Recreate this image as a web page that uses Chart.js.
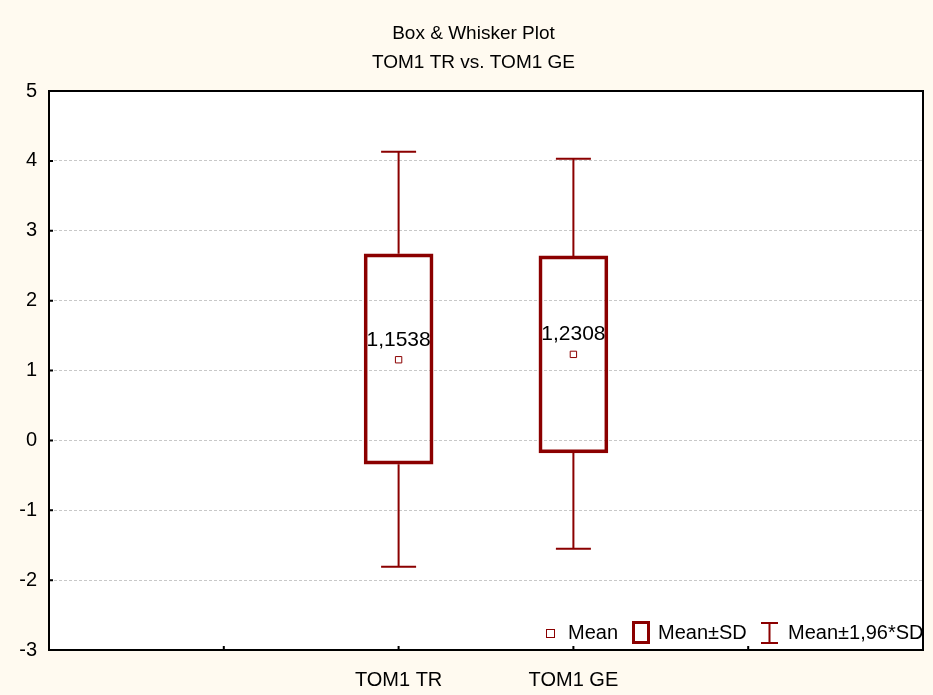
<!DOCTYPE html>
<html>
<head>
<meta charset="utf-8">
<script src="https://cdn.jsdelivr.net/npm/chart.js@4"></script>
<style>
    html, body { margin: 0; padding: 0; background: #fffaf0; }
    #wrap { width: 933px; height: 695px; }
</style>
</head>
<body>
<div id="wrap"><canvas id="chart" width="933" height="695"></canvas></div>
<script>
// Data
const categories = ["TOM1 TR", "TOM1 GE"];
const positions = [2, 3];
const means = [1.1538, 1.2308];
const sdLow = [-0.34, -0.18];
const sdHigh = [2.67, 2.64];
const ciLow = [-1.81, -1.55];
const ciHigh = [4.13, 4.03];
const titleText = "Box & Whisker Plot";
const subtitleText = "TOM1 TR vs. TOM1 GE";
const legendLabels = ["Mean", "Mean±SD", "Mean±1,96*SD"];

const RED = "#8b0000";
const FONT = "'Liberation Sans', Arial, sans-serif";

Chart.defaults.font.family = FONT;
Chart.defaults.color = "#000";

// Draws background, frame, whiskers, labels and legend
const boxPlugin = {
    id: "boxPlugin",
    beforeDraw(chart) {
        const ctx = chart.ctx;
        const a = chart.chartArea;
        ctx.save();
        ctx.fillStyle = "#fffaf0";
        ctx.fillRect(0, 0, chart.width, chart.height);
        ctx.fillStyle = "#ffffff";
        ctx.fillRect(a.left, a.top, a.right - a.left, a.bottom - a.top);
        ctx.restore();
    },
    beforeDatasetsDraw(chart) {
        const ctx = chart.ctx;
        const x = chart.scales.x;
        const y = chart.scales.y;
        ctx.save();
        ctx.strokeStyle = RED;
        ctx.lineWidth = 2;
        positions.forEach((p, i) => {
            const px = x.getPixelForValue(p);
            const top = y.getPixelForValue(ciHigh[i]);
            const bottom = y.getPixelForValue(ciLow[i]);
            ctx.beginPath();
            ctx.moveTo(px, top);
            ctx.lineTo(px, y.getPixelForValue(sdHigh[i]));
            ctx.moveTo(px, y.getPixelForValue(sdLow[i]));
            ctx.lineTo(px, bottom);
            ctx.moveTo(px - 17.5, top);
            ctx.lineTo(px + 17.5, top);
            ctx.moveTo(px - 17.5, bottom);
            ctx.lineTo(px + 17.5, bottom);
            ctx.stroke();
        });
        ctx.restore();
    },
    afterDraw(chart) {
        const ctx = chart.ctx;
        const a = chart.chartArea;
        const x = chart.scales.x;
        const y = chart.scales.y;
        ctx.save();

        // mean value labels
        ctx.fillStyle = "#000";
        ctx.font = "21px " + FONT;
        ctx.textAlign = "center";
        ctx.textBaseline = "middle";
        positions.forEach((p, i) => {
            const label = means[i].toFixed(4).replace(".", ",");
            ctx.fillText(label, x.getPixelForValue(p), y.getPixelForValue(means[i]) - 20);
        });

        // frame and inner tick marks
        ctx.strokeStyle = "#000";
        ctx.lineWidth = 2;
        ctx.strokeRect(a.left, a.top, a.right - a.left, a.bottom - a.top);
        ctx.beginPath();
        for (let v = 1; v <= 4; v++) {
            const px = x.getPixelForValue(v);
            ctx.moveTo(px, a.bottom);
            ctx.lineTo(px, a.bottom - 4);
        }
        for (let v = -2; v <= 4; v++) {
            const py = y.getPixelForValue(v);
            ctx.moveTo(a.left, py);
            ctx.lineTo(a.left + 4, py);
        }
        ctx.stroke();

        // titles
        ctx.font = "19px " + FONT;
        ctx.fillText(titleText, chart.width / 2 + 7, 34);
        ctx.fillText(subtitleText, chart.width / 2 + 7, 63);

        // legend
        const ly = 633;
        ctx.font = "20px " + FONT;
        ctx.textAlign = "left";
        ctx.strokeStyle = RED;
        ctx.lineWidth = 1;
        ctx.fillStyle = "#fff";
        ctx.fillRect(546, ly - 4, 8, 8);
        ctx.strokeRect(546.5, ly - 3.5, 8, 8);
        ctx.fillStyle = "#000";
        ctx.fillText(legendLabels[0], 568, ly);

        ctx.lineWidth = 3;
        ctx.strokeRect(633.5, ly - 10.5, 15, 20);
        ctx.fillText(legendLabels[1], 658, ly);

        ctx.lineWidth = 2;
        ctx.beginPath();
        ctx.moveTo(761, ly - 10);
        ctx.lineTo(778, ly - 10);
        ctx.moveTo(769.5, ly - 10);
        ctx.lineTo(769.5, ly + 10);
        ctx.moveTo(761, ly + 10);
        ctx.lineTo(778, ly + 10);
        ctx.stroke();
        ctx.fillText(legendLabels[2], 788, ly);

        ctx.restore();
    }
};

const ctx = document.getElementById("chart").getContext("2d");

new Chart(ctx, {
    type: "bar",
    data: {
        datasets: [
            {
                type: "bar",
                label: "Mean±SD",
                data: positions.map((p, i) => ({ x: p, y: [sdLow[i], sdHigh[i]] })),
                backgroundColor: "rgba(255,255,255,0)",
                borderColor: RED,
                borderWidth: 3,
                borderSkipped: false,
                barThickness: 69,
                order: 2
            },
            {
                type: "scatter",
                label: "Mean",
                data: positions.map((p, i) => ({ x: p, y: means[i] })),
                pointStyle: "rect",
                pointRadius: 4.5,
                backgroundColor: "#fff",
                borderColor: RED,
                borderWidth: 1,
                order: 1
            }
        ]
    },
    options: {
        responsive: false,
        animation: false,
        layout: { padding: { top: 91, right: 7, left: 0, bottom: 0 } },
        plugins: {
            legend: { display: false },
            tooltip: { enabled: false },
            title: { display: false }
        },
        scales: {
            x: {
                type: "linear",
                min: 0,
                max: 5,
                offset: false,
                grid: { display: false },
                border: { display: false },
                ticks: {
                    stepSize: 1,
                    padding: 10,
                    autoSkip: false,
                    maxRotation: 0,
                    font: { size: 20 },
                    callback: (v) => {
                        const i = positions.indexOf(v);
                        return i >= 0 ? categories[i] : "";
                    }
                },
                afterFit: (s) => { s.height = 45; }
            },
            y: {
                min: -3,
                max: 5,
                grid: {
                    drawTicks: false,
                    color: (c) => (c.tick.value === 5 || c.tick.value === -3) ? "rgba(0,0,0,0)" : "#c8c8c8",
                    lineWidth: 1
                },
                border: { display: false, dash: [3, 2] },
                ticks: {
                    stepSize: 1,
                    padding: 12,
                    font: { size: 20 }
                },
                afterFit: (s) => { s.width = 49; }
            }
        }
    },
    plugins: [boxPlugin]
});
</script>
</body>
</html>
